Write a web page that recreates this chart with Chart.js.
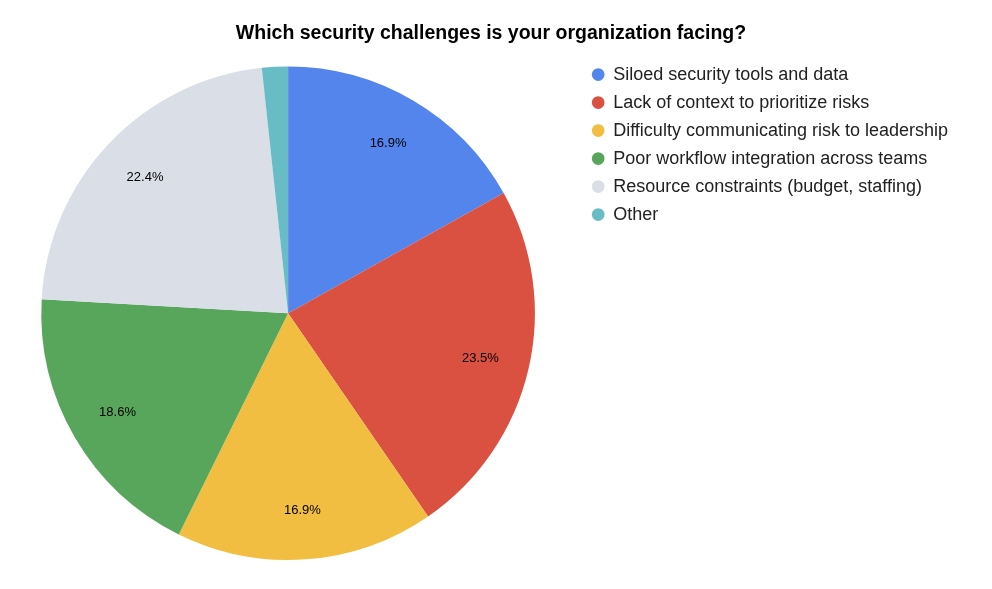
<!DOCTYPE html>
<html>
<head>
<meta charset="utf-8">
<script src="https://cdn.jsdelivr.net/npm/chart.js@4/dist/chart.umd.min.js"></script>
<style>
  html, body { margin: 0; padding: 0; background: #fff; }
  #wrap { width: 992px; height: 589px; }
</style>
</head>
<body>
<div id="wrap"><canvas id="pieChart"></canvas></div>
<script>
const categories = [
    'Siloed security tools and data',
    'Lack of context to prioritize risks',
    'Difficulty communicating risk to leadership',
    'Poor workflow integration across teams',
    'Resource constraints (budget, staffing)',
    'Other'
];
const shares = [16.9, 23.5, 16.9, 18.6, 22.4, 1.7];
const sliceColors = ['#5385EC', '#DA5141', '#F1BE42', '#58A65C', '#D9DEE7', '#67BCC5'];

// percent labels inside each slice (small slices are skipped)
const sliceLabels = {
    id: 'sliceLabels',
    afterDatasetsDraw(chart) {
        const ctx = chart.ctx;
        const meta = chart.getDatasetMeta(0);
        const total = shares.reduce((a, b) => a + b, 0);
        ctx.save();
        ctx.font = '13px "Liberation Sans", Arial, sans-serif';
        ctx.fillStyle = '#000';
        ctx.textAlign = 'center';
        ctx.textBaseline = 'middle';
        meta.data.forEach((arc, i) => {
            const pct = shares[i] / total * 100;
            if (pct < 5) return;
            const mid = (arc.startAngle + arc.endAngle) / 2;
            const r = arc.outerRadius * 0.8;
            ctx.fillText(pct.toFixed(1) + '%', arc.x + Math.cos(mid) * r, arc.y + Math.sin(mid) * r);
        });
        ctx.restore();
    }
};

// nudge title and legend a little to the right without moving the pie
const nudgeBoxes = {
    id: 'nudgeBoxes',
    afterLayout(chart) {
        if (chart.titleBlock) { chart.titleBlock.left += 15; chart.titleBlock.right += 15; }
        if (chart.legend) { chart.legend.left += 6; chart.legend.right += 6; }
    }
};

const ctx = document.getElementById('pieChart').getContext('2d');
new Chart(ctx, {
    type: 'pie',
    data: {
        labels: categories,
        datasets: [{
            data: shares,
            backgroundColor: sliceColors,
            borderWidth: 0
        }]
    },
    options: {
        responsive: true,
        maintainAspectRatio: false,
        animation: false,
        layout: { padding: { left: 0, right: 40, top: 0, bottom: 29 } },
        plugins: {
            title: {
                display: true,
                text: 'Which security challenges is your organization facing?',
                color: '#000',
                font: { family: '"Liberation Sans", Arial, sans-serif', size: 19.5, weight: 'bold' },
                padding: { top: 22, bottom: 21 }
            },
            legend: {
                position: 'right',
                align: 'start',
                title: {
                    display: true,
                    text: '',
                    padding: { top: 34, bottom: 0 },
                    font: { size: 18 }
                },
                labels: {
                    usePointStyle: true,
                    pointStyle: 'circle',
                    boxWidth: 12,
                    boxHeight: 9,
                    padding: 10,
                    color: '#222',
                    font: { family: '"Liberation Sans", Arial, sans-serif', size: 18 }
                }
            },
            tooltip: { enabled: false }
        }
    },
    plugins: [sliceLabels, nudgeBoxes]
});
</script>
</body>
</html>
